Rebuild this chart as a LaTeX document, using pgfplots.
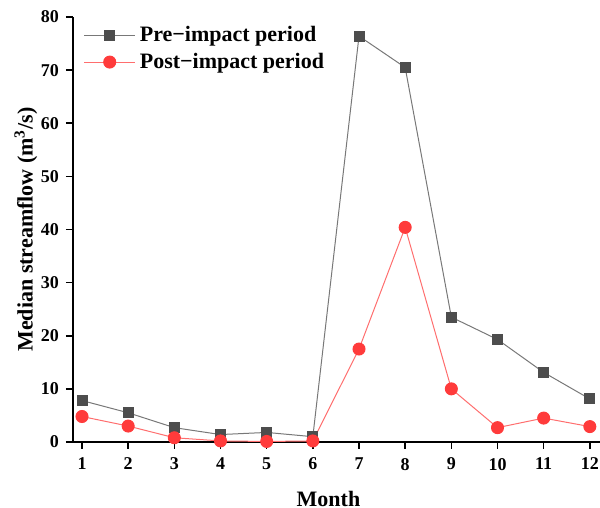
\documentclass[border=0pt]{standalone}
\usepackage{pgfplots}
\pgfplotsset{compat=1.18}
\usepackage{fontspec}
\setmainfont{Liberation Serif}
\definecolor{predark}{RGB}{77,77,77}
\definecolor{preline}{RGB}{120,120,120}
\definecolor{postred}{RGB}{255,59,59}
\definecolor{postline}{RGB}{255,110,110}
\begin{document}
\begin{tikzpicture}
\begin{axis}[
  scale only axis,
  width=263.5pt, height=212.5pt,
  xmin=0.805, xmax=12.22,
  ymin=0, ymax=80,
  axis lines*=left,
  axis line style={line width=1pt},
  xtick={1,...,12},
  ytick={0,10,...,80},
  tick align=outside,
  major tick length=3.5pt,
  tick style={line width=0.8pt, black},
  /pgf/number format/assume math mode=true,
  ticklabel style={font=\fontsize{9}{10}\selectfont\bfseries},
  xticklabel style={yshift=-1pt},
  xlabel={Month},
  ylabel={Median streamflow (m\textsuperscript{3}/s)},
  label style={font=\fontsize{11}{12}\selectfont\bfseries},
  xlabel style={yshift=-3.5pt, xshift=-4pt},
  ylabel shift=-5pt,
  legend style={at={(0.008,0.997)}, anchor=north west, draw=none, fill=none,
    font=\fontsize{11}{12}\selectfont\bfseries, row sep=0pt},
  legend cell align=left,
  legend image code/.code={\draw[mark repeat=2,mark phase=2,#1] plot coordinates {(0cm,0cm)(0.45cm,0cm)(0.9cm,0cm)};},
]
\coordinate (o) at (rel axis cs:0,0);
\addplot[preline, line width=0.5pt, mark=square*, mark size=2.5pt, mark options={draw=predark, fill=predark}]
coordinates {(1,7.8)(2,5.5)(3,2.7)(4,1.4)(5,1.8)(6,1.0)(7,76.4)(8,70.5)(9,23.5)(10,19.3)(11,13.1)(12,8.1)};
\addlegendentry{Pre\textminus impact period}
\addplot[postline, line width=0.5pt, mark=*, mark size=3pt, mark options={draw=postred, fill=postred}]
coordinates {(1,4.8)(2,3.0)(3,0.8)(4,0.2)(5,0.1)(6,0.2)(7,17.5)(8,40.4)(9,10.0)(10,2.7)(11,4.5)(12,2.9)};
\addlegendentry{Post\textminus impact period}
\end{axis}
\pgfresetboundingbox
\useasboundingbox ([shift={(-36.5pt,-33pt)}]o) rectangle ([shift={(263.5pt,221pt)}]o);
\end{tikzpicture}
\end{document}
